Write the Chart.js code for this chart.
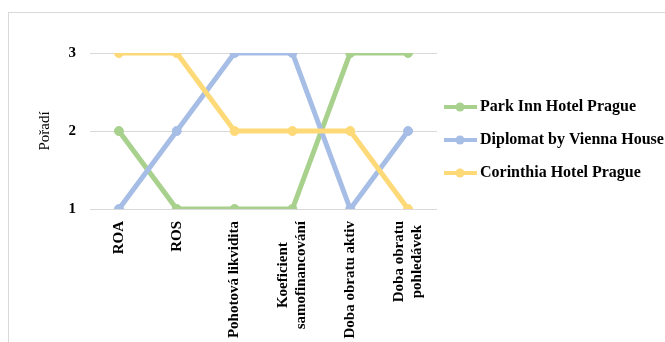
<!DOCTYPE html>
<html>
<head>
<meta charset="utf-8">
<script src="https://cdn.jsdelivr.net/npm/chart.js@4"></script>
<style>
  body { margin: 0; background: #fff; }
  #wrap { position: relative; width: 665px; height: 342px; overflow: hidden; }
  #frame { position: absolute; left: 8px; top: 12px; width: 700px; height: 400px;
    border-left: 1px solid #d9d9d9; border-top: 1px solid #d9d9d9; }
  canvas { position: absolute; left: 0; top: 0; }
</style>
</head>
<body>
<div id="wrap">
  <div id="frame"></div>
  <canvas id="rank-chart" width="665" height="342"></canvas>
</div>
<script>
//categories and ranks
const categories = ["ROA", "ROS", "Pohotová likvidita", ["Koeficient", "samofinancování"],
  "Doba obratu aktiv", ["Doba obratu", "pohledávek"]];
const parkInn = [2, 1, 1, 1, 3, 3];
const diplomat = [1, 2, 3, 3, 1, 2];
const corinthia = [3, 3, 2, 2, 2, 1];
const rankTicks = [1, 2, 3];

const serif = "'Liberation Serif', 'Times New Roman', serif";

//legend marker: line with a dot on it (image is centred on the legend box)
function legendMarker(color) {
  const c = document.createElement("canvas");
  c.width = 38;
  c.height = 10;
  const ctx = c.getContext("2d");
  ctx.strokeStyle = color;
  ctx.lineWidth = 4;
  ctx.beginPath();
  ctx.moveTo(0, 5);
  ctx.lineTo(33, 5);
  ctx.stroke();
  ctx.fillStyle = color;
  ctx.beginPath();
  ctx.arc(16, 5, 4.5, 0, Math.PI * 2);
  ctx.fill();
  return c;
}

//two-line category labels: centre the lines on the tick, like Excel does
const centerMultiLine = {
  id: "centerMultiLine",
  beforeDraw(chart) {
    const ctx = chart.ctx;
    chart.scales.x.getLabelItems().forEach(item => {
      if (!Array.isArray(item.label) || item.label.length < 2 || item._centred) return;
      ctx.save();
      ctx.font = item.font.string;
      const widest = Math.max(...item.label.map(t => ctx.measureText(t).width));
      ctx.restore();
      item.textOffset -= item.font.lineHeight * (item.label.length - 1) / 2;
      item.options.textAlign = "center";
      item.options.translation[1] += widest / 2;
      item._centred = true;
    });
  }
};

function series(label, data, color, order) {
  return {
    label: label,
    data: data,
    borderColor: color,
    backgroundColor: color,
    pointBackgroundColor: color,
    pointBorderColor: color,
    borderWidth: 5,
    pointBorderWidth: 1,
    pointRadius: 4.5,
    pointHoverRadius: 4.5,
    pointHoverBorderWidth: 1,
    tension: 0,
    order: order
  };
}

const rankData = {
  labels: categories,
  datasets: [
    series("Park Inn Hotel Prague", parkInn, "#a9d18e", 3),
    series("Diplomat by Vienna House", diplomat, "#a6bde6", 2),
    series("Corinthia Hotel Prague", corinthia, "#fdd978", 1)
  ]
};

const rankOptions = {
  responsive: false,
  animation: false,
  layout: {
    padding: { left: 25, top: 53, right: 0, bottom: 0 }
  },
  scales: {
    x: {
      offset: true,
      grid: { display: false },
      border: { display: false },
      ticks: {
        color: "#000",
        minRotation: 90,
        maxRotation: 90,
        autoSkip: false,
        padding: 4,
        font: { family: serif, size: 15, weight: "bold" }
      },
      afterFit: (scale) => { scale.height = 133; }
    },
    y: {
      min: 1,
      max: 3,
      afterBuildTicks: (scale) => { scale.ticks = rankTicks.map(v => ({ value: v })); },
      grid: { color: "#d9d9d9", lineWidth: 1, drawTicks: false },
      border: { display: false },
      ticks: {
        color: "#000",
        padding: 14,
        font: { family: serif, size: 15, weight: "bold" }
      },
      title: {
        display: true,
        text: "Pořadí",
        color: "#000",
        padding: 11,
        font: { family: serif, size: 15 }
      },
      afterFit: (scale) => { scale.width = 65; }
    }
  },
  plugins: {
    tooltip: { enabled: false },
    legend: {
      position: "right",
      fullSize: false,
      maxWidth: 228,
      title: {
        display: true,
        text: " ",
        padding: 0,
        font: { size: 15 }
      },
      labels: {
        color: "#000",
        usePointStyle: true,
        pointStyleWidth: 18,
        padding: 17,
        font: { family: serif, size: 16, weight: "bold" },
        generateLabels: (chart) => chart.data.datasets.map((ds, i) => ({
          text: ds.label,
          datasetIndex: i,
          pointStyle: legendMarker(ds.borderColor),
          fillStyle: ds.borderColor,
          strokeStyle: ds.borderColor,
          lineWidth: 0,
          hidden: false,
          fontColor: "#000"
        }))
      }
    }
  }
};

const rankCanvas = document.getElementById("rank-chart");
let rankChart = new Chart(rankCanvas, {
  type: "line",
  data: rankData,
  options: rankOptions,
  plugins: [centerMultiLine]
});
</script>
</body>
</html>
